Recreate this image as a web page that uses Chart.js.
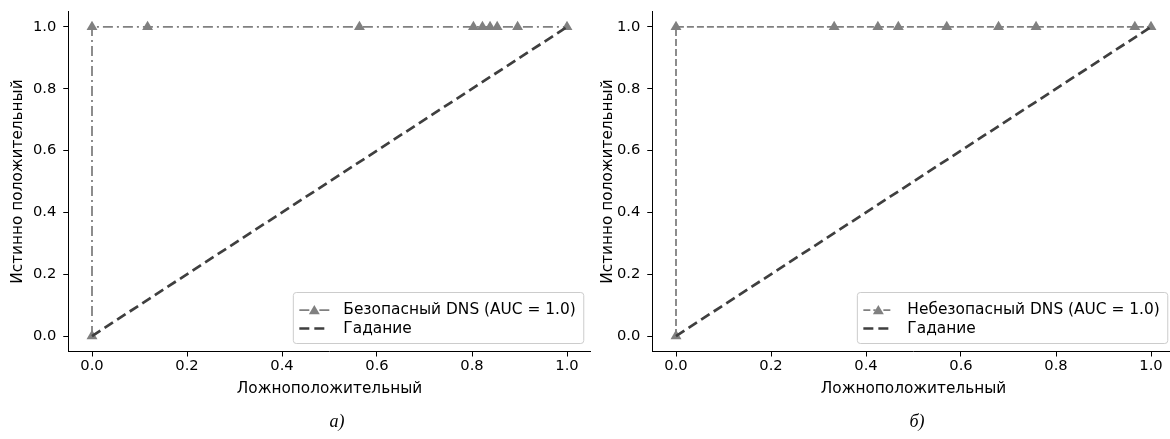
<!DOCTYPE html>
<html>
<head>
<meta charset="utf-8">
<script src="https://cdn.jsdelivr.net/npm/chart.js@4.4.0/dist/chart.umd.min.js"></script>
<style>
  html, body { margin: 0; padding: 0; background: #fff; width: 1170px; height: 439px; overflow: hidden; position: relative; }
  canvas { position: absolute; top: 0; }
  #c1 { left: 0; }
  #c2 { left: 592px; }
  .cap { position: absolute; font-family: "Liberation Serif", serif; font-style: italic; font-size: 18px; color: #000; transform: translate(-50%, -50%); top: 421px; }
</style>
</head>
<body>
<canvas id="c1" width="592" height="439"></canvas>
<canvas id="c2" width="583" height="439"></canvas>
<div class="cap" style="left:337px">а)</div>
<div class="cap" style="left:917px">б)</div>
<script>
// ---- data ----
const leftFpr  = [0, 0, 0.117, 0.563, 0.803, 0.822, 0.838, 0.853, 0.896, 1.0];
const leftTpr  = [0, 1, 1, 1, 1, 1, 1, 1, 1, 1];
const rightFpr = [0, 0, 0.333, 0.425, 0.468, 0.570, 0.679, 0.758, 0.966, 1.0];
const rightTpr = [0, 1, 1, 1, 1, 1, 1, 1, 1, 1];
const guessX = [0, 1];
const guessY = [0, 1];
const tickValues = [0, 0.2, 0.4, 0.6, 0.8, 1.0];
const tickLabels = ['0.0', '0.2', '0.4', '0.6', '0.8', '1.0'];
const leftLabel = 'Безопасный DNS (AUC = 1.0)';
const rightLabel = 'Небезопасный DNS (AUC = 1.0)';
const guessLabel = 'Гадание';
const xTitle = 'Ложноположительный';
const yTitle = 'Истинно положительный';

Chart.defaults.font.family = '"DejaVu Sans", sans-serif';
Chart.defaults.font.size = 14.7;
Chart.defaults.color = '#000';

const FONT = '15.4px "DejaVu Sans", sans-serif';

function pts(xs, ys) { return xs.map((x, i) => ({x: x, y: ys[i]})); }

const legendPlugin = {
  id: 'mplLegend',
  afterDatasetsDraw(chart) {
    const ctx = chart.ctx;
    const ca = chart.chartArea;
    const ds = chart.data.datasets;
    ctx.save();
    ctx.font = FONT;
    let tw = 0;
    ds.forEach(d => { tw = Math.max(tw, ctx.measureText(d.label).width); });
    const w = 50 + tw + 8;
    const h = 51;
    const x0 = ca.right - 7 - w;
    const y0 = ca.bottom - 8 - h;
    ctx.beginPath();
    ctx.roundRect(x0, y0, w, h, 3);
    ctx.fillStyle = 'rgba(255,255,255,0.8)';
    ctx.fill();
    ctx.strokeStyle = '#cccccc';
    ctx.lineWidth = 1;
    ctx.stroke();
    const rows = [y0 + 17.7, y0 + 36];
    ds.forEach((d, i) => {
      const y = rows[i];
      const hx = x0 + 6;
      ctx.save();
      ctx.beginPath();
      ctx.setLineDash(d.borderDash || []);
      ctx.strokeStyle = d.borderColor;
      ctx.lineWidth = d.borderWidth;
      ctx.moveTo(hx, y);
      ctx.lineTo(hx + 30, y);
      ctx.stroke();
      ctx.restore();
      if (d.pointRadius > 0) {
        ctx.save();
        ctx.setLineDash([]);
        Chart.helpers.drawPoint(ctx, {pointStyle: 'triangle', radius: d.pointRadius, borderWidth: 0}, hx + 15, y + 1);
        ctx.fillStyle = d.pointBackgroundColor;
        ctx.fill();
        ctx.restore();
      }
      ctx.fillStyle = '#000';
      ctx.textBaseline = 'middle';
      ctx.textAlign = 'left';
      ctx.fillText(d.label, x0 + 50, y);
    });
    ctx.restore();
  }
};

function makeChart(id, fpr, tpr, label, dash, yAxisWidth, yTitlePad, padRight) {
  return new Chart(document.getElementById(id), {
    type: 'scatter',
    data: {
      datasets: [
        {
          label: label,
          data: pts(fpr, tpr),
          showLine: true,
          borderColor: '#808080',
          borderWidth: 1.8,
          borderDash: dash,
          pointStyle: 'triangle',
          pointRadius: 6.3,
          pointBorderWidth: 0,
          pointBackgroundColor: '#808080',
          pointBorderColor: '#808080',
          order: 2
        },
        {
          label: guessLabel,
          data: pts(guessX, guessY),
          showLine: true,
          borderColor: '#3f3f3f',
          borderWidth: 2.7,
          borderDash: [10, 5],
          pointRadius: 0,
          order: 1
        }
      ]
    },
    options: {
      responsive: false,
      animation: false,
      devicePixelRatio: 1,
      layout: { autoPadding: false, padding: { top: 11.5, right: padRight, bottom: 0, left: 0 } },
      plugins: { legend: { display: false }, tooltip: { enabled: false } },
      scales: {
        x: {
          type: 'linear',
          min: -0.05, max: 1.05,
          afterBuildTicks: s => { s.ticks = tickValues.map(v => ({value: v})); },
          afterFit: s => { s.height = 87.5; s.paddingLeft = 0; s.paddingRight = 0; },
          ticks: { callback: (v, i) => tickLabels[i], padding: 1, maxRotation: 0, autoSkip: false },
          grid: { drawOnChartArea: false, drawTicks: true, tickLength: 5, tickColor: '#000', tickWidth: 1 },
          border: { display: true, color: '#000', width: 1 },
          title: { display: true, text: xTitle, font: {size: 15.3}, padding: { top: 0, bottom: 40.8 } }
        },
        y: {
          type: 'linear',
          min: -0.05, max: 1.05,
          afterBuildTicks: s => { s.ticks = tickValues.map(v => ({value: v})); },
          afterFit: s => { s.width = yAxisWidth; s.paddingTop = 0; s.paddingBottom = 0; },
          ticks: { callback: (v, i) => tickLabels[i], padding: 7, autoSkip: false },
          grid: { drawOnChartArea: false, drawTicks: true, tickLength: 5, tickColor: '#000', tickWidth: 1 },
          border: { display: true, color: '#000', width: 1 },
          title: { display: true, text: yTitle, font: {size: 15.3}, padding: { top: yTitlePad, bottom: 0 } }
        }
      }
    },
    plugins: [legendPlugin]
  });
}

makeChart('c1', leftFpr, leftTpr, leftLabel, [10, 4, 2, 4], 68.25, 8.8, 1.25);
makeChart('c2', rightFpr, rightTpr, rightLabel, [7, 3], 60.25, 6.8, 0.25);
</script>
</body>
</html>
